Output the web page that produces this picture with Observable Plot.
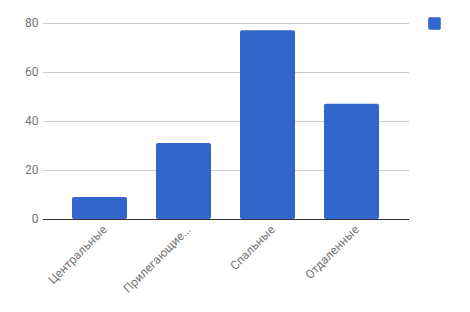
<!DOCTYPE html>
<html>
<head>
<meta charset="utf-8">
<script src="https://cdn.jsdelivr.net/npm/d3@7"></script>
<script src="https://cdn.jsdelivr.net/npm/@observablehq/plot@0.6"></script>
<style>
  html, body { margin: 0; padding: 0; background: #fff; }
  #wrap { position: relative; width: 470px; height: 312px; }
  #key { position: absolute; left: 428px; top: 17px; width: 11px; height: 11px;
         background: #3366cc; border-radius: 2px; border: 0.5px solid #5b86dd; }
</style>
</head>
<body>
<div id="wrap"></div>
<script>
// District types and counts
const categories = ["Центральные", "Прилегающие...", "Спальные", "Отдаленные"];
const counts = [9, 31, 77, 47];
const yTicks = [0, 20, 40, 60, 80];
const barColor = "#3366cc";

const rows = categories.map((c, i) => ({category: c, value: counts[i]}));

const chart = Plot.plot({
  width: 470,
  height: 312,
  marginLeft: 43,
  marginRight: 61,
  marginTop: 23,
  marginBottom: 93,
  style: {fontFamily: "Roboto, Arial, sans-serif", fontSize: "12px", color: "#757575", background: "#fff"},
  x: {domain: categories, paddingInner: 0.345, paddingOuter: 0.35, label: null},
  y: {domain: [0, 80], ticks: yTicks, label: null},
  marks: [
    Plot.gridY(yTicks.filter(d => d > 0), {stroke: "#cccccc", strokeOpacity: 1}),
    Plot.axisY({ticks: yTicks, tickSize: 0, tickPadding: 5, fill: "#757575", fontSize: 12}),
    Plot.axisX({tickSize: 0, tickRotate: -45, tickPadding: 6, dx: 5, dy: 2, fill: "#757575", fontSize: 12}),
    Plot.barY(rows, {x: "category", y: "value", fill: barColor, rx: 2}),
    Plot.ruleY([0], {stroke: "#333333", strokeWidth: 1.2})
  ]
});

const wrap = document.getElementById("wrap");
wrap.appendChild(chart);
const key = document.createElement("div");
key.id = "key";
wrap.appendChild(key);
</script>
</body>
</html>
